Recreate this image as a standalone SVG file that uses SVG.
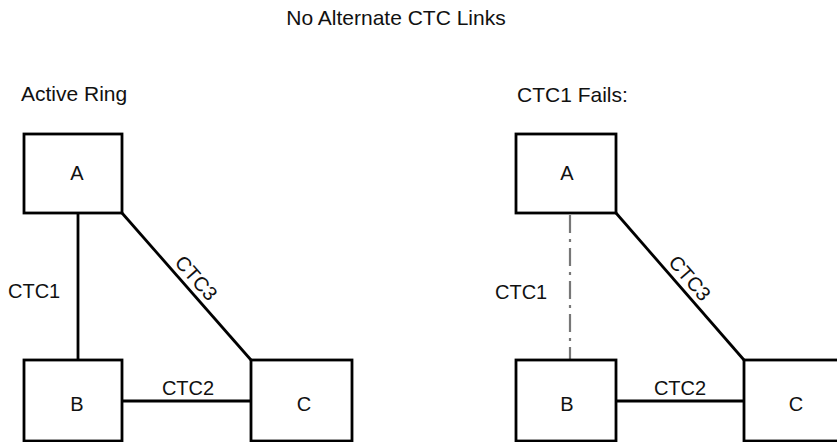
<svg xmlns="http://www.w3.org/2000/svg" width="837" height="442" viewBox="0 0 837 442">
<style>
text{font-family:"Liberation Sans",Arial,sans-serif;fill:#111}
.t{font-size:21px}
.lbl{font-size:20px}
.nl{font-size:20px;text-anchor:middle}
.box{fill:#fff;stroke:#000;stroke-width:2.8}
.ln{stroke:#000;stroke-width:2.8;fill:none}
.dash{stroke:#777;stroke-width:2.2;fill:none;stroke-dasharray:18 6 3 6}
</style>
<rect width="837" height="442" fill="#fff"/>
<text class="t" x="396" y="25" text-anchor="middle">No Alternate CTC Links</text>
<text class="t" x="21" y="101">Active Ring</text>
<text class="t" x="517" y="102">CTC1 Fails:</text>
<g id="connectors">
<line class="ln" x1="78" y1="213" x2="78" y2="360"/>
<line class="ln" x1="122" y1="213" x2="251" y2="360"/>
<line class="ln" x1="122" y1="401" x2="251" y2="401"/>
<line class="dash" x1="570" y1="215" x2="570" y2="360"/>
<line class="ln" x1="616" y1="213" x2="744" y2="360"/>
<line class="ln" x1="616" y1="401" x2="744" y2="401"/>
<text class="lbl" x="8" y="298">CTC1</text>
<text class="lbl" x="188" y="395" text-anchor="middle">CTC2</text>
<text class="lbl" transform="translate(186.5 286.5) rotate(48.7)" x="0" y="-6" text-anchor="middle">CTC3</text>
<text class="lbl" x="495" y="299">CTC1</text>
<text class="lbl" x="680" y="395" text-anchor="middle">CTC2</text>
<text class="lbl" transform="translate(680 286.5) rotate(49)" x="0" y="-6" text-anchor="middle">CTC3</text>
</g>
<g id="L-A"><rect class="box" x="24" y="134" width="98" height="79"/><text class="nl" x="77" y="180">A</text></g>
<g id="L-B"><rect class="box" x="24" y="360" width="98" height="81"/><text class="nl" x="77" y="411">B</text></g>
<g id="L-C"><rect class="box" x="251" y="360" width="101" height="81"/><text class="nl" x="304" y="411">C</text></g>
<g id="R-A"><rect class="box" x="516" y="134" width="100" height="79"/><text class="nl" x="567" y="180">A</text></g>
<g id="R-B"><rect class="box" x="516" y="360" width="100" height="81"/><text class="nl" x="567" y="411">B</text></g>
<g id="R-C"><rect class="box" x="744" y="360" width="101" height="81"/><text class="nl" x="796" y="411">C</text></g>
</svg>
